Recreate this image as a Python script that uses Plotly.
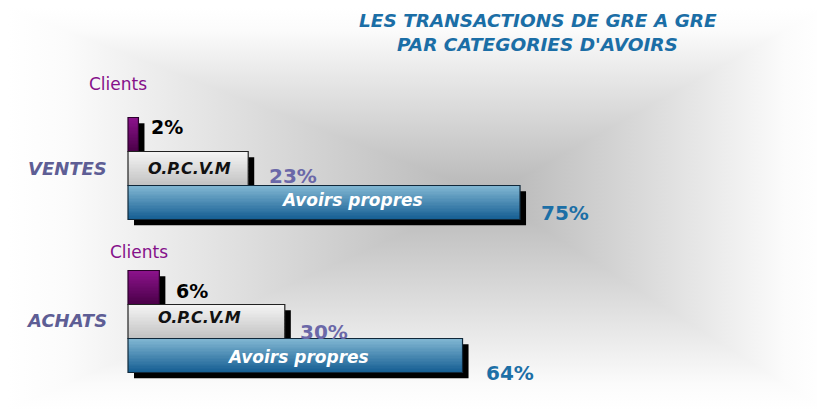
import base64
import plotly.graph_objects as go

# ---------------- data ----------------
title_lines = ["LES TRANSACTIONS DE GRE A GRE", "PAR CATEGORIES D'AVOIRS"]
groups = ["VENTES", "ACHATS"]
categories = ["Clients", "O.P.C.V.M", "Avoirs propres"]
ventes = [2, 23, 75]
achats = [6, 30, 64]
values = [ventes, achats]

# ---------------- styling ----------------
FONT = "DejaVu Sans, Liberation Sans, Arial, sans-serif"
OFF = 8                      # page body margin
W, H = 825 - OFF, 410 - OFF  # figure size
PX_PER_PCT = 5.227
X0_PX = 128 - OFF
BAR_PX = 34.0
Y0_PX = 134.5 - OFF

grad = {  # (top, bottom)
    "Clients": ("#8e138e", "#4a0048"),
    "O.P.C.V.M": ("#f6f6f6", "#c2c2c2"),
    "Avoirs propres": ("#84b9d4", "#155e93"),
}
outline = {"Clients": "#2a002a", "O.P.C.V.M": "#222222", "Avoirs propres": "#10283a"}


def hex2rgb(h):
    h = h.lstrip("#")
    return tuple(int(h[i:i + 2], 16) for i in (0, 2, 4))


def mix(c1, c2, t):
    a, b = hex2rgb(c1), hex2rgb(c2)
    return "rgb(%d,%d,%d)" % tuple(round(a[i] + (b[i] - a[i]) * t) for i in range(3))


def pos(g, c):
    return g * 4.5 + c


ys, xs, cats = [], [], []
for g in range(len(groups)):
    for c, cat in enumerate(categories):
        ys.append(pos(g, c))
        xs.append(values[g][c])
        cats.append(cat)

fig = go.Figure()

# shadows
fig.add_trace(go.Bar(
    orientation="h", y=[y + 0.17 for y in ys], x=xs, base=[1.15] * len(xs),
    width=1.0, marker=dict(color="#000000", line=dict(width=0)),
    hoverinfo="skip", showlegend=False))

# gradient bands
K = 24
for k in range(K):
    t = (k + 0.5) / K
    cols = [mix(grad[c][0], grad[c][1], t) for c in cats]
    fig.add_trace(go.Bar(
        orientation="h", y=ys, x=xs, width=1.0 / K + 0.004, offset=-0.5 + k / K,
        marker=dict(color=cols, line=dict(width=0)),
        hoverinfo="skip", showlegend=False))

# outlines
fig.add_trace(go.Bar(
    orientation="h", y=ys, x=xs, width=1.0,
    marker=dict(color="rgba(0,0,0,0)", line=dict(color=[outline[c] for c in cats], width=1.2)),
    hoverinfo="skip", showlegend=False))

ann = []
# title (two lines)
for i, line in enumerate(title_lines):
    ann.append(dict(text="<b><i>%s</i></b>" % line, xref="paper", yref="paper",
                    x=(537.5 - OFF) / W, y=1 - (i * 23.5) / H, xanchor="center", yanchor="top",
                    showarrow=False, font=dict(family=FONT, size=18.5, color="#1b6ea6")))

# group labels
gshift = [0.5, 1.5]
for g, name in enumerate(groups):
    ann.append(dict(text="<b><i>%s</i></b>" % name, x=0, y=pos(g, 1), xanchor="right", yanchor="middle",
                    xshift=-19, yshift=gshift[g], showarrow=False,
                    font=dict(family=FONT, size=18, color="#5e5e95")))

# value labels
val_style = [("#000000", 19), ("#6b68a8", 20), ("#1c6fa6", 20)]
val_shift = [[(11, 7.5), (19, -7), (19, -10.5)], [(15, -3), (13, -10.5), (21, -17)]]
for g in range(len(groups)):
    for c in range(len(categories)):
        col, sz = val_style[c]
        dx, dy = val_shift[g][c]
        ann.append(dict(text="<b>%d%%</b>" % values[g][c], x=values[g][c], y=pos(g, c),
                        xanchor="left", yanchor="middle", xshift=dx, yshift=dy, showarrow=False,
                        font=dict(family=FONT, size=sz, color=col)))

# category labels
for g in range(len(groups)):
    cshift = [(-10, 51), (11, 35.5)][g]
    ann.append(dict(text=categories[0], x=0, y=pos(g, 0), xanchor="center", yanchor="middle",
                    xshift=cshift[0], yshift=cshift[1], showarrow=False,
                    font=dict(family=FONT, size=17, color="#85108a")))
    oshift = [(1, 0), (-7, 4)][g]
    ann.append(dict(text="<b><i>%s</i></b>" % categories[1], x=values[g][1] / 2, y=pos(g, 1),
                    xanchor="center", yanchor="middle", xshift=oshift[0], yshift=oshift[1],
                    showarrow=False, font=dict(family=FONT, size=16, color="#111111")))
    ashift = [(28, 2.5), (3, -1.5)][g]
    ann.append(dict(text="<b><i>%s</i></b>" % categories[2], x=values[g][2] / 2, y=pos(g, 2),
                    xanchor="center", yanchor="middle", xshift=ashift[0], yshift=ashift[1],
                    showarrow=False, font=dict(family=FONT, size=17, color="#ffffff")))

# background: rectangular "from centre" gradient as SVG
cx, cy = 490 - OFF, 195 - OFF
stops = '<stop offset="0" stop-color="#ffffff"/><stop offset="0.12" stop-color="#fbfbfb"/>' \
        '<stop offset="1" stop-color="#b6b6b6"/>'
ce = 'shape-rendering="crispEdges"'
svg = f'''<svg xmlns="http://www.w3.org/2000/svg" width="{W}" height="{H}" viewBox="0 0 {W} {H}">
<defs>
<linearGradient id="t" gradientUnits="userSpaceOnUse" x1="0" y1="0" x2="0" y2="{cy}">{stops}</linearGradient>
<linearGradient id="b" gradientUnits="userSpaceOnUse" x1="0" y1="{H}" x2="0" y2="{cy}">{stops}</linearGradient>
<linearGradient id="l" gradientUnits="userSpaceOnUse" x1="0" y1="0" x2="{cx}" y2="0">{stops}</linearGradient>
<linearGradient id="r" gradientUnits="userSpaceOnUse" x1="{W}" y1="0" x2="{cx}" y2="0">{stops}</linearGradient>
</defs>
<polygon {ce} points="0,0 {W},0 {cx},{cy}" fill="url(#t)"/>
<polygon {ce} points="0,{H} {W},{H} {cx},{cy}" fill="url(#b)"/>
<polygon {ce} points="0,0 0,{H} {cx},{cy}" fill="url(#l)"/>
<polygon {ce} points="{W},0 {W},{H} {cx},{cy}" fill="url(#r)"/>
</svg>'''
src = "data:image/svg+xml;base64," + base64.b64encode(svg.encode()).decode()

x_lo = -X0_PX / PX_PER_PCT
x_hi = (W - X0_PX) / PX_PER_PCT
y_top = -Y0_PX / BAR_PX
y_bot = (H - Y0_PX) / BAR_PX

fig.update_layout(
    width=W, height=H, margin=dict(l=0, r=0, t=0, b=0),
    paper_bgcolor="#ffffff", plot_bgcolor="rgba(0,0,0,0)",
    barmode="overlay", showlegend=False,
    xaxis=dict(range=[x_lo, x_hi], visible=False, fixedrange=True),
    yaxis=dict(range=[y_bot, y_top], visible=False, fixedrange=True),
    annotations=ann,
    images=[dict(source=src, xref="paper", yref="paper", x=0, y=1, sizex=1, sizey=1,
                 xanchor="left", yanchor="top", sizing="stretch", layer="below")],
)

fig.write_html("out.html")
